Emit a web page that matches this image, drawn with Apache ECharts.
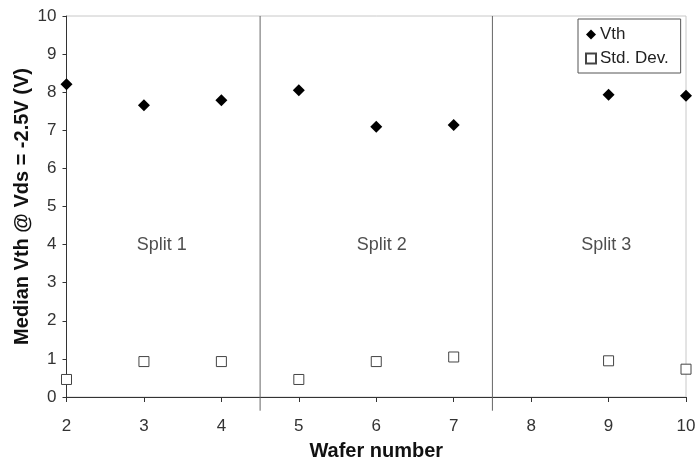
<!DOCTYPE html>
<html>
<head>
<meta charset="utf-8">
<script src="https://cdn.jsdelivr.net/npm/echarts@6/dist/echarts.min.js"></script>
<style>html,body{margin:0;padding:0;background:#fff}#c{width:696px;height:459px}</style>
</head>
<body>
<div id="c"></div>
<script>
const wafers = [2, 3, 4, 5, 6, 7, 9, 10];
const vth = [8.21, 7.66, 7.79, 8.05, 7.09, 7.14, 7.93, 7.91];
const stdDev = [0.46, 0.93, 0.93, 0.46, 0.93, 1.05, 0.95, 0.73];
const splitNames = ['Split 1', 'Split 2', 'Split 3'];
const splitX = [3.23, 6.07, 8.97];
const splitY = [4, 4, 4];
const dividers = [4.5, 7.5];
const xTicks = [2, 3, 4, 5, 6, 7, 8, 9, 10];
const yTicks = [0, 1, 2, 3, 4, 5, 6, 7, 8, 9, 10];

const font = '"Liberation Sans", Arial, sans-serif';
const chart = echarts.init(document.getElementById('c'));

const dividerSeries = dividers.map(d => ({
  type: 'line', data: [[d, 10], [d, -0.36]], symbol: 'none', clip: false, silent: true,
  lineStyle: { color: '#666', width: 1 }, z: 1
}));

chart.setOption({
  animation: false,
  textStyle: { fontFamily: font },
  grid: { left: 66.5, right: 10, top: 16, bottom: 62, containLabel: false, outerBoundsMode: 'none',
    show: true, borderColor: '#c8c8c8', borderWidth: 1 },
  legend: {
    orient: 'vertical', left: 578, top: 19,
    padding: [7, 12, 6, 7], itemGap: 7, itemWidth: 10, itemHeight: 10,
    backgroundColor: '#fff', borderColor: '#555', borderWidth: 1,
    textStyle: { fontFamily: font, fontSize: 17, color: '#222', padding: [0, 0, 0, -1] },
    data: [{ name: 'Vth', icon: 'diamond' }, { name: 'Std. Dev.', icon: 'rect' }]
  },
  xAxis: {
    type: 'value', min: 2, max: 10, interval: 1,
    name: 'Wafer number', nameLocation: 'middle', nameGap: 44, nameMoveOverlap: false,
    nameTextStyle: { fontFamily: font, fontSize: 20, fontWeight: 'bold', color: '#111' },
    axisLine: { show: true, lineStyle: { color: '#333', width: 1 } },
    axisTick: { show: true, length: 5, lineStyle: { color: '#333' } },
    axisLabel: { fontFamily: font, fontSize: 17, color: '#333', margin: 21,
      formatter: v => xTicks.includes(v) ? String(v) : '' },
    splitLine: { show: false }
  },
  yAxis: {
    type: 'value', min: 0, max: 10, interval: 1,
    name: 'Median Vth @ Vds = -2.5V (V)', nameLocation: 'middle', nameGap: 34, nameMoveOverlap: false,
    nameTextStyle: { fontFamily: font, fontSize: 20, fontWeight: 'bold', color: '#111' },
    axisLine: { show: true, lineStyle: { color: '#333', width: 1 } },
    axisTick: { show: true, length: 4, lineStyle: { color: '#333' } },
    axisLabel: { fontFamily: font, fontSize: 17, color: '#333', margin: 10,
      formatter: v => yTicks.includes(v) ? String(v) : '' },
    splitLine: { show: false }
  },
  series: [
    ...dividerSeries,
    {
      name: 'Vth', type: 'scatter', symbol: 'diamond', symbolSize: 12, clip: false,
      itemStyle: { color: '#000', opacity: 1 }, z: 5,
      data: wafers.map((w, i) => [w, vth[i]])
    },
    {
      name: 'Std. Dev.', type: 'scatter', symbol: 'rect', symbolSize: 10, clip: false,
      itemStyle: { color: '#fff', borderColor: '#444', borderWidth: 1, opacity: 1 }, z: 5,
      data: wafers.map((w, i) => [w, stdDev[i]])
    },
    {
      type: 'scatter', symbolSize: 0, silent: true,
      label: { show: true, position: 'inside', formatter: p => p.name,
        fontFamily: font, fontSize: 18, color: '#222' },
      data: splitNames.map((n, i) => ({ name: n, value: [splitX[i], splitY[i]] }))
    }
  ]
});
</script>
</body>
</html>
